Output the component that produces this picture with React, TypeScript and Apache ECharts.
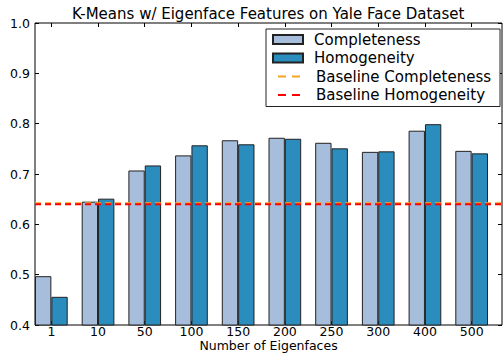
import React, { useEffect, useRef } from "react";
import * as echarts from "echarts";

const categories = ["1", "10", "50", "100", "150", "200", "250", "300", "400", "500"];
const completeness = [0.497, 0.645, 0.707, 0.737, 0.767, 0.772, 0.762, 0.744, 0.786, 0.746];
const homogeneity = [0.456, 0.651, 0.717, 0.757, 0.759, 0.770, 0.751, 0.745, 0.799, 0.741];
const baselineCompleteness = 0.642;
const baselineHomogeneity = 0.64;
const yTicks = { min: 0.4, max: 1.0, interval: 0.1 };

const FONT = "DejaVu Sans";
const GL = 35;
const GT = 23;
const GW = 467;
const GH = 302;
const BAND = GW / categories.length;

export default function App() {
  const ref = useRef<HTMLDivElement>(null);
  useEffect(() => {
    if (!ref.current) return;
    const chart = echarts.init(ref.current, undefined, { renderer: "svg" });
    const tickStyle = { show: true, inside: true, length: 4, lineStyle: { color: "#000", width: 1 } };
    const legendDash = { width: 2, type: [8, 6], dashOffset: 9 };
    chart.setOption({
      animation: false,
      backgroundColor: "#fff",
      textStyle: { fontFamily: FONT, color: "#000" },
      title: {
        text: "K-Means w/ Eigenface Features on Yale Face Dataset",
        left: 72,
        top: 6,
        padding: 0,
        textStyle: { fontFamily: FONT, fontSize: 15, fontWeight: "normal", color: "#000" },
      },
      legend: {
        orient: "vertical",
        left: 266,
        top: 29,
        padding: [3, 9, 4, 6],
        itemGap: 3.5,
        itemWidth: 30,
        itemHeight: 9,
        borderColor: "#222",
        borderWidth: 1,
        backgroundColor: "#fff",
        textStyle: { fontFamily: FONT, fontSize: 15, color: "#000", padding: [0, 0, 0, 6] },
        data: [
          { name: "Completeness", icon: "rect" },
          { name: "Homogeneity", icon: "rect" },
          { name: "Baseline Completeness", itemStyle: { opacity: 0 }, lineStyle: legendDash, textStyle: { padding: [0, 0, 0, 8] } },
          { name: "Baseline Homogeneity", itemStyle: { opacity: 0 }, lineStyle: legendDash, textStyle: { padding: [0, 0, 0, 8] } },
        ],
      },
      grid: [
        { left: GL, top: GT, width: GW, height: GH, show: true, borderColor: "#000", borderWidth: 1, backgroundColor: "transparent", outerBoundsMode: "none", containLabel: false },
        { left: GL - 0.15 * BAND, top: GT, width: GW, height: GH, outerBoundsMode: "none", containLabel: false },
      ],
      xAxis: [
        {
          type: "value",
          gridIndex: 0,
          min: 0,
          max: categories.length,
          axisLabel: { show: false },
          axisTick: { show: false },
          axisLine: { show: false },
          splitLine: { show: false },
          name: "Number of Eigenfaces",
          nameLocation: "middle",
          nameGap: 14,
          nameTextStyle: { fontFamily: FONT, fontSize: 12.5, color: "#000" },
        },
        {
          type: "category",
          gridIndex: 1,
          data: categories,
          position: "bottom",
          axisLine: { show: false },
          axisTick: { ...tickStyle, alignWithLabel: true },
          axisLabel: { margin: 0, fontFamily: FONT, fontSize: 12.5, color: "#000" },
        },
        {
          type: "category",
          gridIndex: 1,
          data: categories,
          position: "top",
          axisLine: { show: false },
          axisTick: { ...tickStyle, alignWithLabel: true },
          axisLabel: { show: false },
        },
      ],
      yAxis: [
        {
          type: "value",
          gridIndex: 0,
          ...yTicks,
          axisLine: { show: false },
          axisTick: tickStyle,
          splitLine: { show: false },
          axisLabel: {
            margin: 5,
            fontFamily: FONT,
            fontSize: 12.5,
            color: "#000",
            formatter: (v: number) => v.toFixed(1),
          },
        },
        {
          type: "value",
          gridIndex: 0,
          position: "right",
          ...yTicks,
          axisLine: { show: false },
          axisTick: tickStyle,
          splitLine: { show: false },
          axisLabel: { show: false },
        },
        {
          type: "value",
          gridIndex: 1,
          ...yTicks,
          show: false,
        },
      ],
      series: [
        {
          name: "Completeness",
          type: "bar",
          xAxisIndex: 1,
          yAxisIndex: 2,
          data: completeness,
          barWidth: "35%",
          barGap: "0%",
          itemStyle: { color: "#a6bddb", borderColor: "#222", borderWidth: 1 },
        },
        {
          name: "Homogeneity",
          type: "bar",
          xAxisIndex: 1,
          yAxisIndex: 2,
          data: homogeneity,
          barWidth: "35%",
          barGap: "0%",
          itemStyle: { color: "#2b8cbe", borderColor: "#222", borderWidth: 1 },
        },
        {
          name: "Baseline Completeness",
          type: "line",
          xAxisIndex: 0,
          yAxisIndex: 0,
          symbol: "none",
          data: [
            [0, baselineCompleteness],
            [categories.length, baselineCompleteness],
          ],
          itemStyle: { color: "#f5a623" },
          lineStyle: { color: "#f5a623", width: 2, type: [6, 4] },
        },
        {
          name: "Baseline Homogeneity",
          type: "line",
          xAxisIndex: 0,
          yAxisIndex: 0,
          symbol: "none",
          data: [
            [0, baselineHomogeneity],
            [categories.length, baselineHomogeneity],
          ],
          itemStyle: { color: "#ff0000" },
          lineStyle: { color: "#ff0000", width: 2, type: [6, 4] },
        },
      ],
    });
    return () => chart.dispose();
  }, []);
  return (
    <div
      ref={ref}
      style={{ position: "fixed", left: 0, top: 0, width: 503, height: 354 }}
    />
  );
}
